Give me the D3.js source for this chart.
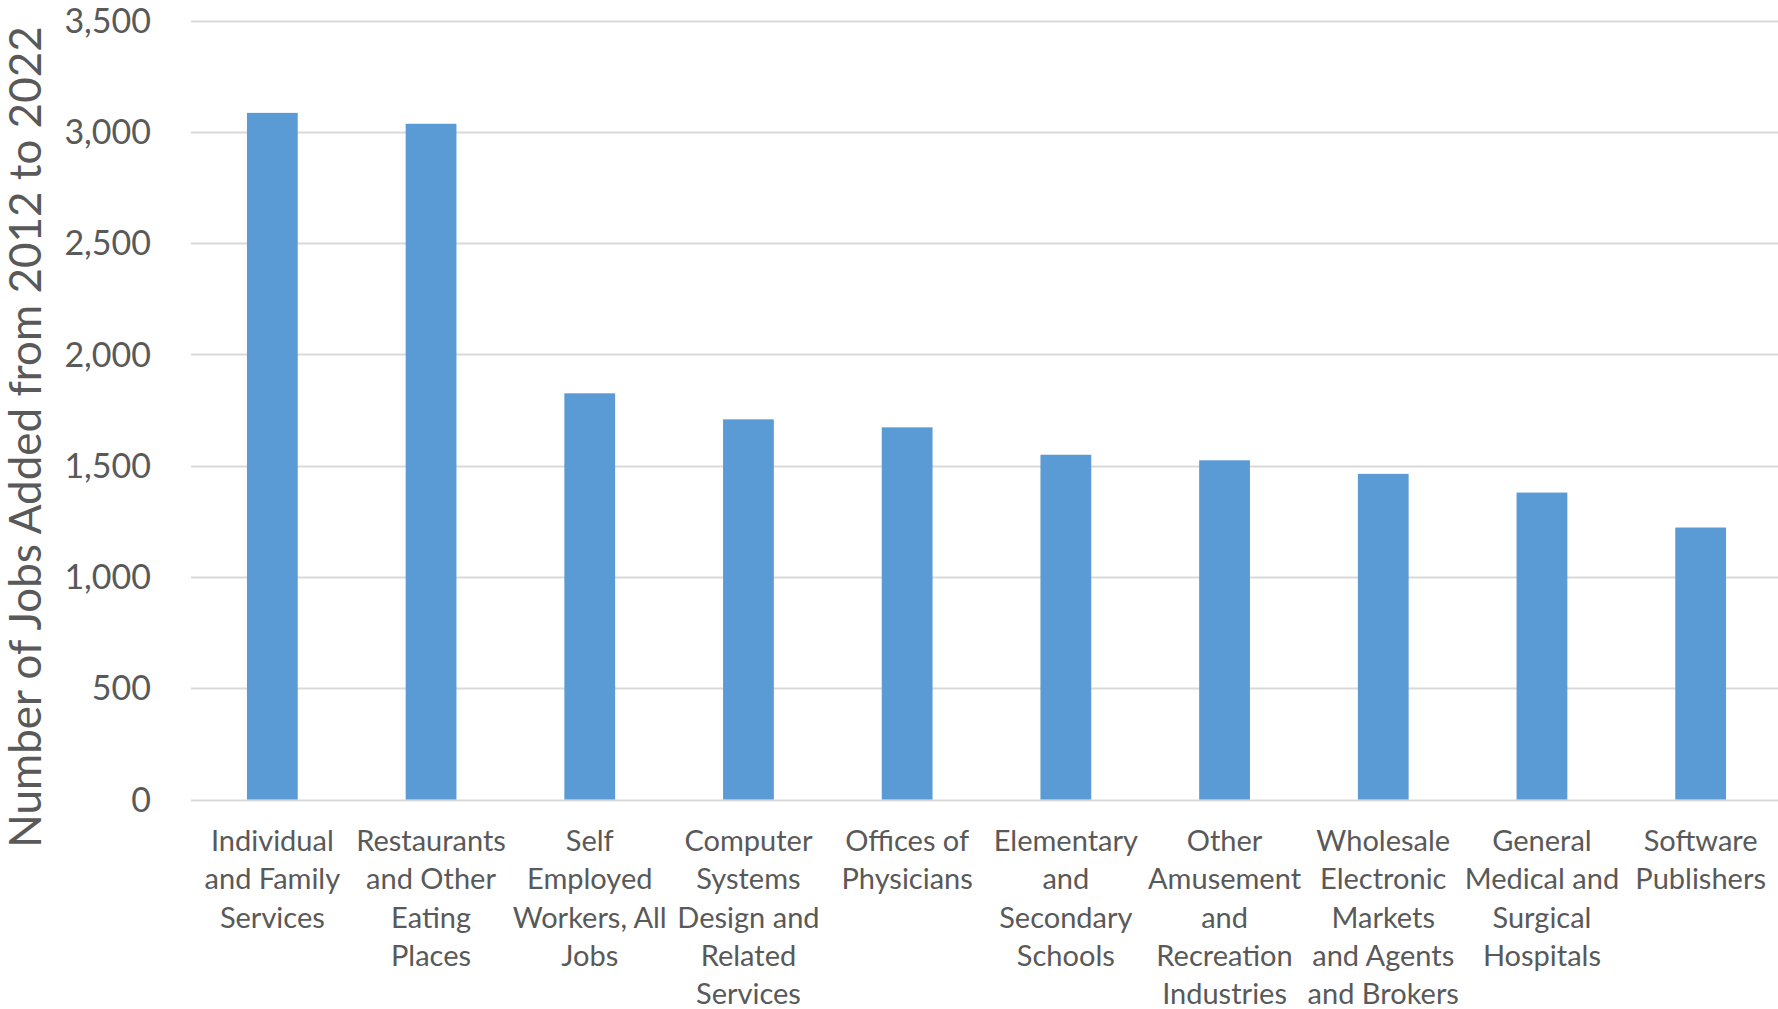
<!DOCTYPE html>
<html>
<head>
<meta charset="utf-8">
<script src="https://cdn.jsdelivr.net/npm/d3@7"></script>
<style>
  body { margin: 0; background: #fff; }
  svg text { font-family: Lato, "Open Sans", sans-serif; fill: #595959; }
</style>
</head>
<body>
<svg id="chart" width="1778" height="1009"></svg>
<script>
// category labels, already broken into lines like the original
const categories = [
  "Individual\nand Family\nServices",
  "Restaurants\nand Other\nEating\nPlaces",
  "Self\nEmployed\nWorkers, All\nJobs",
  "Computer\nSystems\nDesign and\nRelated\nServices",
  "Offices of\nPhysicians",
  "Elementary\nand\nSecondary\nSchools",
  "Other\nAmusement\nand\nRecreation\nIndustries",
  "Wholesale\nElectronic\nMarkets\nand Agents\nand Brokers",
  "General\nMedical and\nSurgical\nHospitals",
  "Software\nPublishers"
];
// jobs added 2012-2022
const jobsAdded = [3085, 3036, 1825, 1708, 1672, 1549, 1524, 1463, 1379, 1222];
const yTicks = [0, 500, 1000, 1500, 2000, 2500, 3000, 3500];
const yTitle = "Number of Jobs Added from 2012 to 2022";

const svg = d3.select("#chart");

const x = d3.scaleBand()
  .domain(categories)
  .range([193, 1780])
  .paddingInner(0.68)
  .paddingOuter(0.34);

const y = d3.scaleLinear()
  .domain([0, 3500])
  .range([799.5, 20.5]);

// gridlines
svg.append("g")
  .selectAll("line")
  .data(yTicks)
  .join("line")
  .attr("x1", 191)
  .attr("x2", 1778)
  .attr("y1", d => Math.round(y(d)) + 0.5)
  .attr("y2", d => Math.round(y(d)) + 0.5)
  .attr("stroke", "#d9d9d9")
  .attr("stroke-width", 2);

// y tick labels
svg.append("g")
  .selectAll("text")
  .data(yTicks)
  .join("text")
  .attr("x", 151)
  .attr("y", d => y(d))
  .attr("dy", "0.36em")
  .attr("text-anchor", "end")
  .style("font-size", "34px")
  .text(d => d3.format(",")(d));

// bars
svg.append("g")
  .selectAll("rect")
  .data(jobsAdded)
  .join("rect")
  .attr("x", (d, i) => x(categories[i]))
  .attr("width", x.bandwidth())
  .attr("y", d => y(d))
  .attr("height", d => y(0) - y(d))
  .attr("fill", "#5b9bd5");

// category labels
const labels = svg.append("g")
  .selectAll("text")
  .data(categories)
  .join("text")
  .attr("text-anchor", "middle")
  .style("font-size", "29px")
  .attr("transform", d => `translate(${x(d) + x.bandwidth() / 2},851)`);

labels.selectAll("tspan")
  .data(d => d.split("\n"))
  .join("tspan")
  .attr("x", 0)
  .attr("y", (d, i) => i * 38.3)
  .text(d => d);

// y axis title
svg.append("text")
  .attr("transform", "translate(41,437) rotate(-90)")
  .attr("text-anchor", "middle")
  .style("font-size", "44px")
  .text(yTitle);
</script>
</body>
</html>
